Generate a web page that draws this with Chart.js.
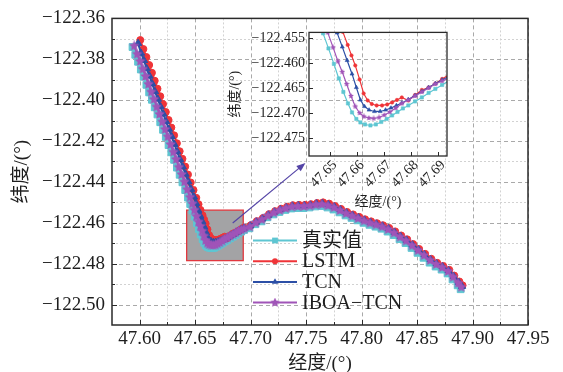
<!DOCTYPE html>
<html>
<head>
<meta charset="utf-8">
<script src="https://cdn.jsdelivr.net/npm/chart.js@4.4.1/dist/chart.umd.min.js"></script>
<style>
  body { margin: 0; background: #fff; }
  #wrap { position: relative; width: 563px; height: 372px; }
  #main { position: absolute; left: 0; top: 0; }
  #inset { position: absolute; left: 222px; top: 20px; }
</style>
</head>
<body>
<div id="wrap">
  <canvas id="main" width="563" height="372"></canvas>
  <canvas id="inset" width="238" height="195"></canvas>
</div>
<script>
'use strict'

// ---- data (longitude / latitude, degrees) ----
var TRUE_X = [47.5935, 47.5960, 47.5985, 47.6010, 47.6035, 47.6060, 47.6085, 47.6110, 47.6135, 47.6160,
  47.6185, 47.6210, 47.6235, 47.6260, 47.6285, 47.6310, 47.6335, 47.6360, 47.6385, 47.6410,
  47.6435, 47.6455, 47.6475, 47.6495, 47.6515, 47.6533,
  47.6550, 47.6567, 47.6582, 47.6598, 47.6613, 47.6630, 47.6650, 47.6670, 47.6690, 47.6710,
  47.6730, 47.6750, 47.6770, 47.6790, 47.6815, 47.6840, 47.6865, 47.6890, 47.6915, 47.6940,
  47.6988, 47.7042, 47.7097, 47.7151, 47.7205, 47.7259, 47.7313, 47.7367, 47.7421, 47.7476,
  47.7530, 47.7584, 47.7638, 47.7692, 47.7746, 47.7800, 47.7855, 47.7909, 47.7963, 47.8017,
  47.8071, 47.8125, 47.8179, 47.8234, 47.8288, 47.8342, 47.8396, 47.8450, 47.8504, 47.8558,
  47.8613, 47.8667, 47.8721, 47.8775, 47.8820, 47.8866, 47.8893]
var TRUE_Y = [-122.3740, -122.3778, -122.3812, -122.3850, -122.3885, -122.3925, -122.3962, -122.3998, -122.4035, -122.4070,
  -122.4108, -122.4145, -122.4180, -122.4220, -122.4255, -122.4292, -122.4330, -122.4365, -122.4402, -122.4440,
  -122.4477, -122.4508, -122.4540, -122.4570, -122.4601, -122.4630,
  -122.4657, -122.4680, -122.4698, -122.4711, -122.4718, -122.4722, -122.4724, -122.4722, -122.4717, -122.4711,
  -122.4704, -122.4697, -122.4690, -122.4684, -122.4676, -122.4668, -122.4659, -122.4651, -122.4643, -122.4635,
  -122.4627, -122.4607, -122.4593, -122.4573, -122.4559, -122.4547, -122.4537, -122.4530, -122.4528, -122.4528,
  -122.4525, -122.4520, -122.4518, -122.4525, -122.4535, -122.4549, -122.4564, -122.4576, -122.4588, -122.4600,
  -122.4610, -122.4619, -122.4629, -122.4643, -122.4660, -122.4680, -122.4699, -122.4723, -122.4747, -122.4771,
  -122.4795, -122.4814, -122.4829, -122.4848, -122.4877, -122.4906, -122.4925]

var LSTM_X = [47.6005, 47.6033, 47.6060, 47.6085, 47.6110, 47.6135, 47.6160, 47.6185, 47.6210, 47.6235,
  47.6260, 47.6285, 47.6310, 47.6335, 47.6360, 47.6385, 47.6410, 47.6435, 47.6460, 47.6485,
  47.6510, 47.6530, 47.6548, 47.6566, 47.6580, 47.6594, 47.6610, 47.6625,
  47.6640, 47.6655, 47.6673, 47.6693, 47.6712, 47.6730, 47.6748, 47.6766, 47.6790, 47.6815,
  47.6840, 47.6865, 47.6890, 47.6915, 47.6940,
  47.7000, 47.7055, 47.7110, 47.7165, 47.7220, 47.7274, 47.7328, 47.7382, 47.7436, 47.7491,
  47.7545, 47.7599, 47.7653, 47.7707, 47.7761, 47.7815, 47.7870, 47.7924, 47.7978, 47.8032,
  47.8086, 47.8140, 47.8194, 47.8249, 47.8303, 47.8357, 47.8411, 47.8465, 47.8519, 47.8573,
  47.8628, 47.8682, 47.8736, 47.8790, 47.8835, 47.8881, 47.8910]
var LSTM_Y = [-122.3706, -122.3750, -122.3789, -122.3828, -122.3866, -122.3905, -122.3944, -122.3981, -122.4019, -122.4058,
  -122.4097, -122.4134, -122.4172, -122.4211, -122.4250, -122.4287, -122.4325, -122.4364, -122.4403, -122.4440,
  -122.4478, -122.4509, -122.4537, -122.4563, -122.4584, -122.4604, -122.4632, -122.4660,
  -122.4674, -122.4681, -122.4684, -122.4684, -122.4682, -122.4678, -122.4673, -122.4668, -122.4674, -122.4663,
  -122.4653, -122.4648, -122.4640, -122.4631, -122.4623,
  -122.4612, -122.4592, -122.4577, -122.4558, -122.4543, -122.4531, -122.4521, -122.4514, -122.4512, -122.4512,
  -122.4509, -122.4503, -122.4500, -122.4506, -122.4518, -122.4532, -122.4547, -122.4559, -122.4571, -122.4583,
  -122.4593, -122.4602, -122.4612, -122.4625, -122.4642, -122.4662, -122.4681, -122.4704, -122.4728, -122.4752,
  -122.4776, -122.4796, -122.4811, -122.4830, -122.4858, -122.4887, -122.4906]

var TCN_X = [47.5985, 47.6012, 47.6038, 47.6063, 47.6088, 47.6113, 47.6138, 47.6163, 47.6188, 47.6213,
  47.6238, 47.6263, 47.6288, 47.6313, 47.6338, 47.6363, 47.6388, 47.6413, 47.6438, 47.6463,
  47.6488, 47.6508, 47.6527, 47.6546, 47.6564, 47.6582,
  47.6598, 47.6613, 47.6628, 47.6645, 47.6665, 47.6686, 47.6706, 47.6726, 47.6746, 47.6766,
  47.6790, 47.6815, 47.6840, 47.6865, 47.6890, 47.6915, 47.6940,
  47.6996, 47.7050, 47.7105, 47.7160, 47.7214, 47.7268, 47.7322, 47.7376, 47.7430, 47.7485,
  47.7539, 47.7593, 47.7647, 47.7701, 47.7755, 47.7809, 47.7864, 47.7918, 47.7972, 47.8026,
  47.8080, 47.8134, 47.8188, 47.8243, 47.8297, 47.8351, 47.8405, 47.8459, 47.8513, 47.8567,
  47.8622, 47.8676, 47.8730, 47.8784, 47.8830, 47.8876, 47.8905]
var TCN_Y = [-122.3722, -122.3770, -122.3806, -122.3846, -122.3882, -122.3920, -122.3958, -122.3995, -122.4032, -122.4068,
  -122.4105, -122.4142, -122.4178, -122.4216, -122.4252, -122.4290, -122.4326, -122.4362, -122.4399, -122.4436,
  -122.4473, -122.4505, -122.4539, -122.4567, -122.4594, -122.4621,
  -122.4648, -122.4673, -122.4686, -122.4693, -122.4696, -122.4696, -122.4693, -122.4689, -122.4684, -122.4679,
  -122.4672, -122.4664, -122.4656, -122.4648, -122.4640, -122.4633, -122.4626,
  -122.4615, -122.4596, -122.4581, -122.4562, -122.4547, -122.4535, -122.4526, -122.4518, -122.4516, -122.4516,
  -122.4513, -122.4507, -122.4505, -122.4511, -122.4522, -122.4536, -122.4551, -122.4563, -122.4575, -122.4587,
  -122.4597, -122.4606, -122.4616, -122.4629, -122.4646, -122.4666, -122.4685, -122.4708, -122.4732, -122.4756,
  -122.4780, -122.4800, -122.4815, -122.4834, -122.4862, -122.4891, -122.4911]

var IBOA_X = [47.5950, 47.5977, 47.6003, 47.6028, 47.6053, 47.6078, 47.6103, 47.6128, 47.6153, 47.6178,
  47.6203, 47.6228, 47.6253, 47.6278, 47.6303, 47.6328, 47.6353, 47.6378, 47.6403, 47.6428,
  47.6453, 47.6473, 47.6492, 47.6512, 47.6530, 47.6546,
  47.6562, 47.6578, 47.6594, 47.6610, 47.6626, 47.6644, 47.6662, 47.6682, 47.6702, 47.6722,
  47.6744, 47.6766, 47.6790, 47.6815, 47.6840, 47.6865, 47.6890, 47.6915, 47.6940,
  47.6992, 47.7046, 47.7101, 47.7155, 47.7209, 47.7263, 47.7317, 47.7371, 47.7425, 47.7480,
  47.7534, 47.7588, 47.7642, 47.7696, 47.7750, 47.7804, 47.7859, 47.7913, 47.7967, 47.8021,
  47.8075, 47.8129, 47.8183, 47.8238, 47.8292, 47.8346, 47.8400, 47.8454, 47.8508, 47.8562,
  47.8617, 47.8671, 47.8725, 47.8779, 47.8824, 47.8870, 47.8898]
var IBOA_Y = [-122.3735, -122.3775, -122.3810, -122.3848, -122.3884, -122.3922, -122.3960, -122.3996, -122.4033, -122.4069,
  -122.4106, -122.4143, -122.4179, -122.4217, -122.4254, -122.4290, -122.4328, -122.4364, -122.4400, -122.4438,
  -122.4475, -122.4507, -122.4538, -122.4568, -122.4596, -122.4617,
  -122.4641, -122.4665, -122.4686, -122.4699, -122.4706, -122.4709, -122.4710, -122.4708, -122.4703, -122.4697,
  -122.4689, -122.4680, -122.4673, -122.4665, -122.4657, -122.4649, -122.4641, -122.4635, -122.4629,
  -122.4620, -122.4600, -122.4585, -122.4566, -122.4551, -122.4539, -122.4530, -122.4522, -122.4520, -122.4520,
  -122.4517, -122.4512, -122.4510, -122.4516, -122.4526, -122.4540, -122.4555, -122.4567, -122.4579, -122.4591,
  -122.4601, -122.4610, -122.4620, -122.4633, -122.4650, -122.4670, -122.4689, -122.4712, -122.4736, -122.4760,
  -122.4784, -122.4804, -122.4819, -122.4838, -122.4866, -122.4895, -122.4915]

// axes
var X_MIN = 47.575, X_MAX = 47.95
var Y_MIN = -122.51, Y_MAX = -122.36
var X_TICKS = [47.60, 47.65, 47.70, 47.75, 47.80, 47.85, 47.90, 47.95]
var X_MINOR = [47.625, 47.675, 47.725, 47.775, 47.825, 47.875, 47.925]
var Y_TICKS = [-122.36, -122.38, -122.40, -122.42, -122.44, -122.46, -122.48, -122.50]
var Y_MINOR = [-122.37, -122.39, -122.41, -122.43, -122.45, -122.47, -122.49]

// zoomed window (grey box in the main plot = range of the inset)
var ZOOM_X = [47.6423, 47.6933]
var ZOOM_Y = [-122.4785, -122.4538]
var INSET_X_TICKS = [47.65, 47.66, 47.67, 47.68, 47.69]
var INSET_Y_TICKS = [-122.455, -122.460, -122.465, -122.470, -122.475]
var ARROW_FROM = [47.6838, -122.4601]
var ARROW_TO = [47.7494, -122.4307]

var FONT = "'Liberation Serif', 'Times New Roman', 'Noto Sans CJK SC', serif"
var INK = '#1e1e1e'

function starImage(size, color) {
    var c = document.createElement('canvas')
    c.width = c.height = size
    var g = c.getContext('2d')
    g.fillStyle = color
    g.beginPath()
    for (var i = 0; i < 10; i++) {
        var r = i % 2 ? size * 0.24 : size * 0.5
        var a = -Math.PI / 2 + i * Math.PI / 5
        g.lineTo(size / 2 + r * Math.cos(a), size / 2 + r * Math.sin(a))
    }
    g.closePath()
    g.fill()
    return c
}

var SERIES = [
    {label: '真实值', xs: TRUE_X, ys: TRUE_Y, color: '#5ec6d2', style: 'rect', r: 4.8, ri: 2.3, order: 4},
    {label: 'LSTM', xs: LSTM_X, ys: LSTM_Y, color: '#ef3438', style: 'circle', r: 3.5, ri: 1.7, order: 3},
    {label: 'TCN', xs: TCN_X, ys: TCN_Y, color: '#2c4fa6', style: 'triangle', r: 4.2, ri: 2.3, order: 2},
    {label: 'IBOA\u2212TCN', xs: IBOA_X, ys: IBOA_Y, color: '#a054b8', style: 'star', r: 4.5, ri: 2, order: 1}
]

function points(xs, ys) {
    var out = []
    for (var i = 0; i < xs.length; i++) out.push({x: xs[i], y: ys[i]})
    return out
}

function makeDatasets(inset) {
    return SERIES.map(function (s) {
        var style = s.style === 'star' ? starImage(inset ? 6 : 11, s.color) : s.style
        return {
            label: s.label,
            data: points(s.xs, s.ys),
            showLine: true,
            borderColor: s.color,
            backgroundColor: s.color,
            borderWidth: inset ? 1.2 : 2,
            pointStyle: style,
            pointRadius: inset ? s.ri : s.r,
            pointBorderWidth: inset ? 0.6 : 1,
            pointBorderColor: s.color,
            pointBackgroundColor: s.color,
            order: s.order
        }
    })
}

function hLine(ctx, x1, x2, y) { ctx.beginPath(); ctx.moveTo(x1, y); ctx.lineTo(x2, y); ctx.stroke() }
function vLine(ctx, x, y1, y2) { ctx.beginPath(); ctx.moveTo(x, y1); ctx.lineTo(x, y2); ctx.stroke() }
function crisp(v) { return Math.round(v) + 0.5 }

function drawMarker(ctx, s, x, y, r) {
    ctx.fillStyle = s.color
    ctx.beginPath()
    if (s.style === 'rect') {
        var h = r * Math.SQRT1_2
        ctx.rect(x - h, y - h, 2 * h, 2 * h)
    } else if (s.style === 'circle') {
        ctx.arc(x, y, r, 0, Math.PI * 2)
    } else if (s.style === 'triangle') {
        ctx.moveTo(x, y - r)
        ctx.lineTo(x + r * 0.87, y + r * 0.5)
        ctx.lineTo(x - r * 0.87, y + r * 0.5)
        ctx.closePath()
    } else {
        ctx.drawImage(starImage(10, s.color), x - 5, y - 5)
        return
    }
    ctx.fill()
}

var mainDecor = {
    id: 'mainDecor',
    beforeDatasetsDraw: function (chart) {
        var ctx = chart.ctx, a = chart.chartArea, xs = chart.scales.x, ys = chart.scales.y
        ctx.save()
        ctx.lineWidth = 1
        ctx.strokeStyle = '#d2d2d2'
        ctx.setLineDash([2, 2])
        X_MINOR.forEach(function (v) { vLine(ctx, crisp(xs.getPixelForValue(v)), a.top, a.bottom) })
        Y_MINOR.forEach(function (v) { hLine(ctx, a.left, a.right, crisp(ys.getPixelForValue(v))) })
        ctx.strokeStyle = '#a9a9a9'
        ctx.setLineDash([4, 3])
        X_TICKS.forEach(function (v) { vLine(ctx, crisp(xs.getPixelForValue(v)), a.top, a.bottom) })
        Y_TICKS.forEach(function (v) { hLine(ctx, a.left, a.right, crisp(ys.getPixelForValue(v))) })
        ctx.setLineDash([])
        // grey zoom box
        var x1 = xs.getPixelForValue(ZOOM_X[0]), x2 = xs.getPixelForValue(ZOOM_X[1])
        var y1 = ys.getPixelForValue(ZOOM_Y[1]), y2 = ys.getPixelForValue(ZOOM_Y[0])
        ctx.fillStyle = '#a3a3a5'
        ctx.fillRect(x1, y1, x2 - x1, y2 - y1)
        ctx.strokeStyle = '#e2383f'
        ctx.lineWidth = 1.3
        ctx.strokeRect(x1, y1, x2 - x1, y2 - y1)
        ctx.restore()
    },
    afterDatasetsDraw: function (chart) {
        var ctx = chart.ctx, xs = chart.scales.x, ys = chart.scales.y
        var x1 = xs.getPixelForValue(ARROW_FROM[0]), y1 = ys.getPixelForValue(ARROW_FROM[1])
        var x2 = xs.getPixelForValue(ARROW_TO[0]), y2 = ys.getPixelForValue(ARROW_TO[1])
        var ang = Math.atan2(y2 - y1, x2 - x1)
        ctx.save()
        ctx.strokeStyle = ctx.fillStyle = '#5444a6'
        ctx.lineWidth = 1.2
        ctx.beginPath()
        ctx.moveTo(x1, y1)
        ctx.lineTo(x2 - 7 * Math.cos(ang), y2 - 7 * Math.sin(ang))
        ctx.stroke()
        ctx.translate(x2, y2)
        ctx.rotate(ang)
        ctx.beginPath()
        ctx.moveTo(0, 0)
        ctx.lineTo(-9, -3.5)
        ctx.lineTo(-9, 3.5)
        ctx.closePath()
        ctx.fill()
        ctx.restore()
    },
    afterDraw: function (chart) {
        var ctx = chart.ctx, a = chart.chartArea, xs = chart.scales.x, ys = chart.scales.y
        ctx.save()
        ctx.strokeStyle = '#2a2a2a'
        ctx.lineWidth = 1.5
        ctx.strokeRect(a.left, a.top, a.right - a.left, a.bottom - a.top)
        ctx.lineWidth = 1
        X_TICKS.forEach(function (v) { vLine(ctx, crisp(xs.getPixelForValue(v)), a.bottom, a.bottom - 5) })
        X_MINOR.forEach(function (v) { vLine(ctx, crisp(xs.getPixelForValue(v)), a.bottom, a.bottom - 3) })
        Y_TICKS.forEach(function (v) { hLine(ctx, a.left, a.left + 5, crisp(ys.getPixelForValue(v))) })
        Y_MINOR.forEach(function (v) { hLine(ctx, a.left, a.left + 3, crisp(ys.getPixelForValue(v))) })
        // legend
        var rowY = [240.5, 261.2, 281.9, 302.6]
        ctx.font = '20px ' + FONT
        ctx.textAlign = 'left'
        ctx.textBaseline = 'middle'
        SERIES.forEach(function (s, i) {
            var y = rowY[i]
            ctx.strokeStyle = s.color
            ctx.lineWidth = 2
            hLine(ctx, 253, 297, y)
            drawMarker(ctx, s, 275, y, s.r * 0.85)
            ctx.fillStyle = INK
            ctx.fillText(s.label, 302, y + 1)
        })
        ctx.restore()
    }
}

var insetDecor = {
    id: 'insetDecor',
    afterDraw: function (chart) {
        var ctx = chart.ctx, a = chart.chartArea, xs = chart.scales.x, ys = chart.scales.y
        ctx.save()
        ctx.strokeStyle = '#2a2a2a'
        ctx.lineWidth = 1.3
        ctx.strokeRect(a.left, a.top, a.right - a.left, a.bottom - a.top)
        ctx.lineWidth = 1
        INSET_X_TICKS.forEach(function (v) { vLine(ctx, crisp(xs.getPixelForValue(v)), a.bottom, a.bottom - 4) })
        INSET_Y_TICKS.forEach(function (v) { hLine(ctx, a.left, a.left + 4, crisp(ys.getPixelForValue(v))) })
        ctx.fillStyle = INK
        ctx.font = '14px ' + FONT
        ctx.textAlign = 'center'
        ctx.textBaseline = 'middle'
        INSET_X_TICKS.forEach(function (v) {
            ctx.save()
            ctx.translate(xs.getPixelForValue(v) - 6, a.bottom + 18)
            ctx.rotate(-Math.PI / 4)
            ctx.fillText(v.toFixed(2), 0, 0)
            ctx.restore()
        })
        ctx.restore()
    }
}

function fixedTicks(values) {
    return function (scale) { scale.ticks = values.map(function (v) { return {value: v} }) }
}

new Chart(document.getElementById('main'), {
    type: 'scatter',
    data: {datasets: makeDatasets(false)},
    plugins: [mainDecor],
    options: {
        responsive: false,
        animation: false,
        events: [],
        layout: {padding: {top: 14, right: 35, left: 0, bottom: 0}},
        plugins: {legend: {display: false}, tooltip: {enabled: false}},
        scales: {
            x: {
                type: 'linear', min: X_MIN, max: X_MAX,
                afterBuildTicks: fixedTicks(X_TICKS),
                afterFit: function (s) { s.height = 47 },
                grid: {display: false, drawTicks: false},
                border: {display: false},
                ticks: {color: INK, font: {family: FONT, size: 19}, padding: 3, maxRotation: 0, autoSkip: false,
                    callback: function (v) { return v.toFixed(2) }},
                title: {display: true, text: '经度/(°)', color: INK, font: {family: FONT, size: 19}, padding: {top: 0, bottom: -3}}
            },
            y: {
                type: 'linear', min: Y_MIN, max: Y_MAX,
                afterBuildTicks: fixedTicks(Y_TICKS),
                afterFit: function (s) { s.width = 112 },
                grid: {display: false, drawTicks: false},
                border: {display: false},
                ticks: {color: INK, font: {family: FONT, size: 19}, padding: 7, autoSkip: false,
                    callback: function (v) { return '\u2212' + Math.abs(v).toFixed(2) }},
                title: {display: true, text: '纬度/(°)', color: INK, font: {family: FONT, size: 19}, padding: {top: 10.6, bottom: 0}}
            }
        }
    }
})

new Chart(document.getElementById('inset'), {
    type: 'scatter',
    data: {datasets: makeDatasets(true)},
    plugins: [insetDecor],
    options: {
        responsive: false,
        animation: false,
        events: [],
        layout: {padding: {top: 11, right: 13, left: 0, bottom: 0}},
        plugins: {legend: {display: false}, tooltip: {enabled: false}},
        scales: {
            x: {
                type: 'linear', min: ZOOM_X[0], max: ZOOM_X[1],
                afterBuildTicks: fixedTicks(INSET_X_TICKS),
                afterFit: function (s) { s.height = 59 },
                grid: {display: false, drawTicks: false},
                border: {display: false},
                ticks: {display: false},
                title: {display: true, text: '经度/(°)', color: INK, font: {family: FONT, size: 14}, padding: {top: 0, bottom: 4.6}}
            },
            y: {
                type: 'linear', min: ZOOM_Y[0], max: ZOOM_Y[1],
                afterBuildTicks: fixedTicks(INSET_Y_TICKS),
                afterFit: function (s) { s.width = 87 },
                grid: {display: false, drawTicks: false},
                border: {display: false},
                ticks: {color: INK, font: {family: FONT, size: 14}, padding: 4, autoSkip: false,
                    callback: function (v) { return '\u2212' + Math.abs(v).toFixed(3) }},
                title: {display: true, text: '纬度/(°)', color: INK, font: {family: FONT, size: 14}, padding: {top: 4.6, bottom: 0}}
            }
        }
    }
})
</script>
</body>
</html>
